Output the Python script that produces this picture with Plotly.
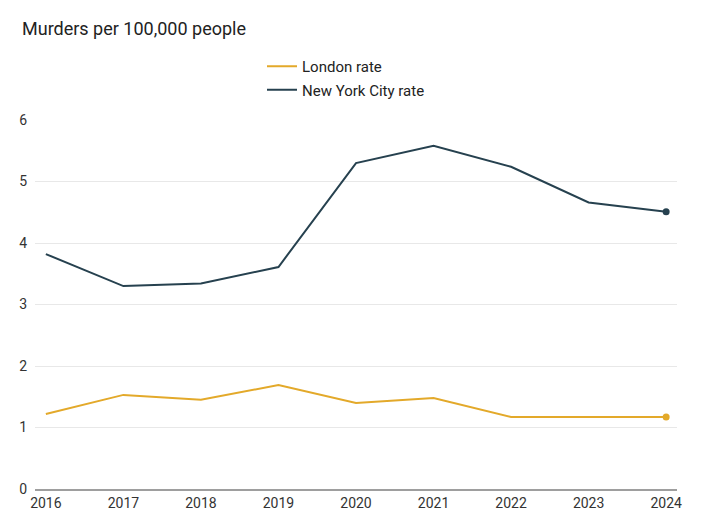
import plotly.graph_objects as go

years = [2016, 2017, 2018, 2019, 2020, 2021, 2022, 2023, 2024]
london_rate = [1.22, 1.53, 1.45, 1.69, 1.40, 1.48, 1.17, 1.17, 1.17]
nyc_rate = [3.82, 3.30, 3.34, 3.61, 5.30, 5.58, 5.24, 4.66, 4.51]
y_ticks = [0, 1, 2, 3, 4, 5, 6]

LONDON = "#E3A92A"
NYC = "#26414F"

W, H = 696, 514
ML, MR, MT, MB = 27, 27, 112, 33
PW = W - ML - MR
PH = H - MT - MB

fig = go.Figure()
fig.add_trace(go.Scatter(x=years, y=london_rate, mode="lines", name="London rate",
                         legendgroup="a", line=dict(color=LONDON, width=2)))
fig.add_trace(go.Scatter(x=years, y=nyc_rate, mode="lines", name="New York City rate",
                         legendgroup="b", line=dict(color=NYC, width=2)))
fig.add_trace(go.Scatter(x=years[-1:], y=london_rate[-1:], mode="markers", showlegend=False,
                         marker=dict(color=LONDON, size=7)))
fig.add_trace(go.Scatter(x=years[-1:], y=nyc_rate[-1:], mode="markers", showlegend=False,
                         marker=dict(color=NYC, size=7)))

fig.update_layout(
    width=W, height=H,
    margin=dict(l=ML, r=MR, t=MT, b=MB),
    paper_bgcolor="white", plot_bgcolor="white",
    font=dict(family="Roboto", size=14, color="#333333"),
    title=dict(text="Murders per 100,000 people", x=14 / W, xref="container", xanchor="left",
               y=1 - 21 / H, yanchor="middle", yref="container",
               font=dict(family="Roboto", size=18, color="#222222"), pad=dict(l=0)),
    showlegend=True,
    legend=dict(x=(254 - ML) / PW, xanchor="left", y=1 + (MT - 42) / PH, yanchor="top",
                font=dict(size=15, color="#222222"), bgcolor="rgba(0,0,0,0)",
                tracegroupgap=1),
    xaxis=dict(range=[2015.86, 2024.14], tickmode="array", tickvals=years,
               ticktext=[str(y) for y in years], showgrid=False, zeroline=False,
               showline=True, linecolor="#9e9e9e", linewidth=2, ticks="",
               tickfont=dict(size=14, color="#333333")),
    yaxis=dict(range=[0, 6], tickmode="array", tickvals=y_ticks, showgrid=True,
               gridcolor="#e8e8e8", gridwidth=1, zeroline=False, ticks="",
               ticklabelstandoff=7, tickfont=dict(size=14, color="#333333")),
)

fig.write_html("out.html")
